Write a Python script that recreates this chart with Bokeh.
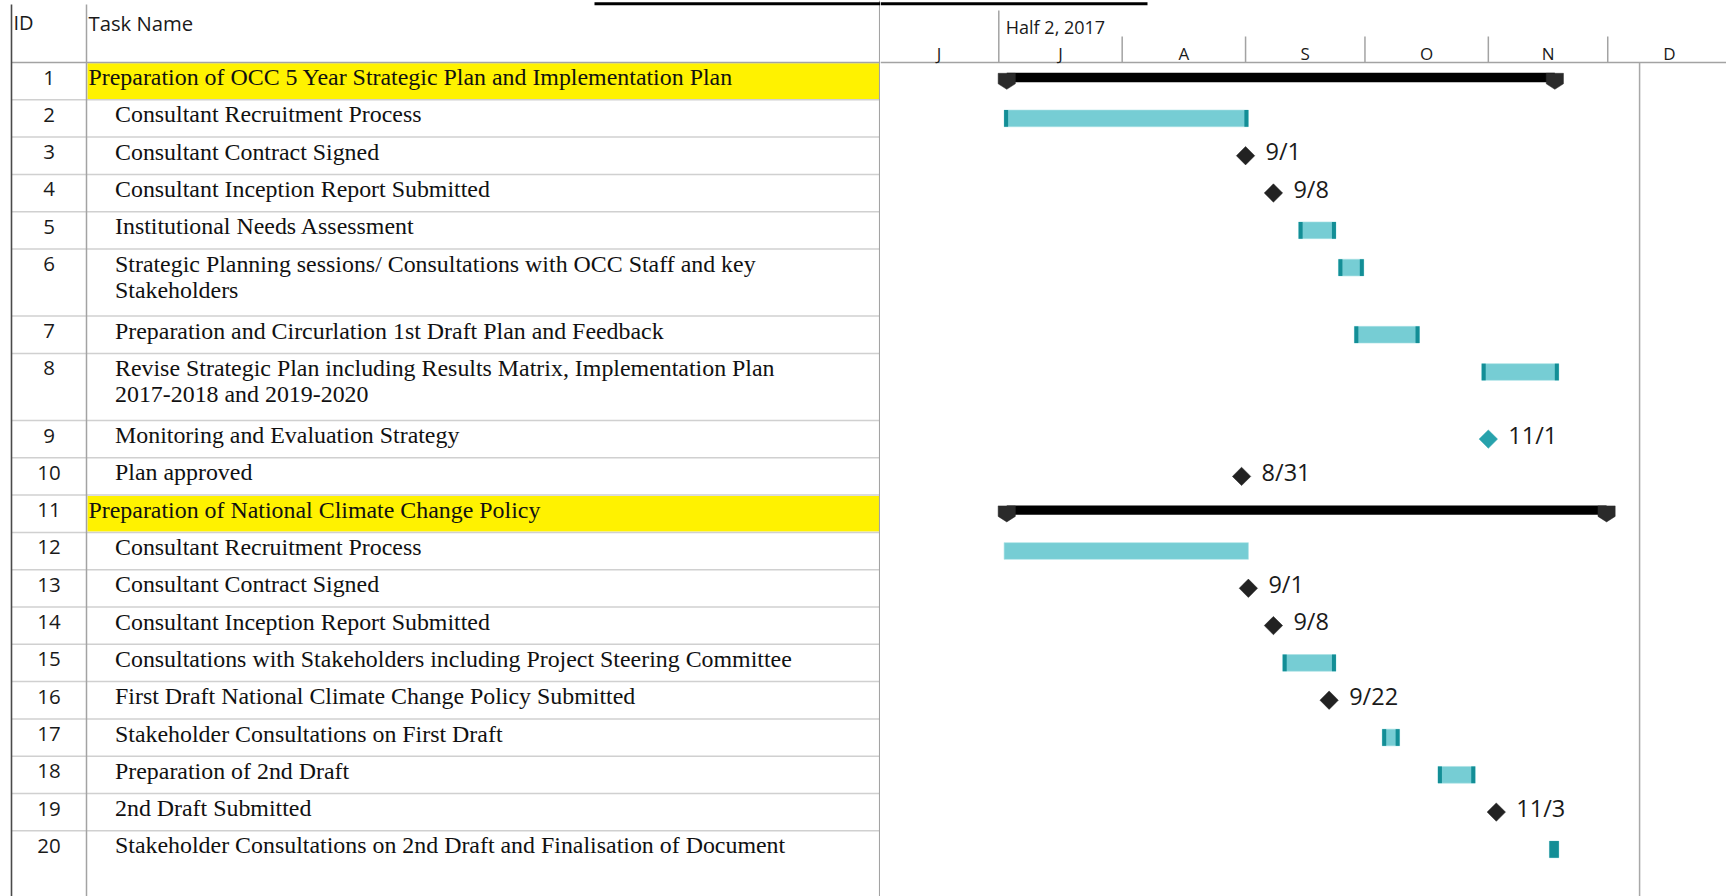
import pandas as pd
from bokeh.plotting import figure
from bokeh.layouts import row
from bokeh.models import ColumnDataSource, Range1d
from bokeh.core.properties import value
from bokeh.embed import file_html
from bokeh.resources import INLINE

# ---------------- data ----------------
TASK_IDS = [str(i) for i in range(1, 21)]
TASK_NAMES = [
    "Preparation of OCC 5 Year Strategic Plan and Implementation Plan",
    "Consultant Recruitment Process",
    "Consultant Contract Signed",
    "Consultant Inception Report Submitted",
    "Institutional Needs Assessment",
    "Strategic Planning sessions/ Consultations with OCC Staff and key\nStakeholders",
    "Preparation and Circurlation 1st Draft Plan and Feedback",
    "Revise Strategic Plan including Results Matrix, Implementation Plan\n2017-2018 and 2019-2020",
    "Monitoring and Evaluation Strategy",
    "Plan approved",
    "Preparation of National Climate Change Policy",
    "Consultant Recruitment Process",
    "Consultant Contract Signed",
    "Consultant Inception Report Submitted",
    "Consultations with Stakeholders including Project Steering Committee",
    "First Draft National Climate Change Policy Submitted",
    "Stakeholder Consultations on First Draft",
    "Preparation of 2nd Draft",
    "2nd Draft Submitted",
    "Stakeholder Consultations on 2nd Draft and Finalisation of Document",
]
TASK_KIND = ["summary", "task", "milestone", "milestone", "task", "task", "task", "task", "milestone", "milestone",
             "summary", "plain", "milestone", "milestone", "task", "milestone", "task", "task", "milestone", "task"]
TASK_START = ["2017-07-03", "2017-07-02", "2017-09-01", "2017-09-08", "2017-09-14", "2017-09-24", "2017-09-28",
              "2017-10-30", "2017-11-01", "2017-08-31", "2017-07-03", "2017-07-02", "2017-09-01 17:00",
              "2017-09-08", "2017-09-10", "2017-09-22", "2017-10-05", "2017-10-19", "2017-11-03", "2017-11-16"]
TASK_FINISH = ["2017-11-17", "2017-09-01", "2017-09-01", "2017-09-08", "2017-09-23", "2017-09-30", "2017-10-14",
               "2017-11-18", "2017-11-01", "2017-08-31", "2017-11-30", "2017-09-01", "2017-09-01 17:00",
               "2017-09-08", "2017-09-23", "2017-09-22", "2017-10-09", "2017-10-28", "2017-11-03", "2017-11-18"]
MILESTONE_HIGHLIGHT = [False] * 8 + [True] + [False] * 11
ROW_LINES = [1, 1, 1, 1, 1, 2, 1, 2, 1, 1, 1, 1, 1, 1, 1, 1, 1, 1, 1, 2]
MONTH_LETTERS = ["J", "J", "A", "S", "O", "N", "D"]
MONTH_STARTS = ["2017-06-01", "2017-07-01", "2017-08-01", "2017-09-01", "2017-10-01", "2017-11-01", "2017-12-01"]
MONTH_ENDS = ["2017-07-01", "2017-08-01", "2017-09-01", "2017-10-01", "2017-11-01", "2017-12-01", "2018-01-01"]
TIER_LABEL = "Half 2, 2017"
TIER_START = "2017-07-01"
MARK_DATE = "2017-12-09"
HEADER_ID = "ID"
HEADER_NAME = "Task Name"

# ---------------- layout constants ----------------
W_LEFT, W_RIGHT, H = 880, 846, 896
TABLE_R = 880
BORDER_L, ID_R = 11, 86
HEAD_B = 62
ROW_H, EXTRA_LINE_H, TEXT_LINE = 37.3, 29.8, 26.4
PX_PER_DAY = 3.98
JUL1_X = 998.3
MS_DAY = 86400000.0
MS_PX = MS_DAY / PX_PER_DAY
H8, H17 = 8 * 3600000.0, 17 * 3600000.0

SANS = value("Open Sans")
SERIF = value("Liberation Serif")
TEAL_LIGHT = "#76CDD4"
TEAL_DARK = "#138E96"
GRID_LIGHT = "#D0D0D0"
GRID_MID = "#A3A3A3"


def ms(s):
    return pd.Timestamp(s).value / 1e6


T0 = ms(TIER_START) - (JUL1_X - TABLE_R) * MS_PX
T1 = T0 + W_RIGHT * MS_PX

tops = []
yy = HEAD_B
for n in ROW_LINES:
    tops.append(yy)
    yy += ROW_H + (n - 1) * EXTRA_LINE_H
bottoms = [t + ROW_H + (n - 1) * EXTRA_LINE_H for t, n in zip(tops, ROW_LINES)]

y_range = Range1d(H, 0)


def make_fig(xr, w):
    p = figure(width=w, height=H, x_range=xr, y_range=y_range, output_backend="svg",
               toolbar_location=None, min_border=0, x_axis_location=None, y_axis_location=None,
               outline_line_color=None, background_fill_color="white", border_fill_color="white")
    p.grid.visible = False
    return p


# ================= left: table =================
pl = make_fig(Range1d(0, W_LEFT), W_LEFT)

s_idx = [i for i, k in enumerate(TASK_KIND) if k == "summary"]
pl.quad(left=[ID_R + 1] * len(s_idx), right=[TABLE_R - 1] * len(s_idx),
        top=[tops[i] + 0.8 for i in s_idx], bottom=[bottoms[i] - 0.8 for i in s_idx],
        fill_color="#FFF200", line_color=None)

pl.segment(x0=[BORDER_L] * len(bottoms), x1=[TABLE_R] * len(bottoms), y0=bottoms, y1=bottoms,
           line_color=GRID_LIGHT, line_width=1.5)
pl.segment(x0=[BORDER_L], x1=[TABLE_R], y0=[HEAD_B], y1=[HEAD_B], line_color=GRID_MID, line_width=1.5)
pl.segment(x0=[BORDER_L], x1=[BORDER_L], y0=[4], y1=[H], line_color="#4A4A4A", line_width=1.6)
pl.segment(x0=[ID_R, TABLE_R - 0.8], x1=[ID_R, TABLE_R - 0.8], y0=[4, 0], y1=[H, H],
           line_color=GRID_MID, line_width=1.5)
# cropped title underline fragment
pl.segment(x0=[594], x1=[TABLE_R], y0=[3.3], y1=[3.3], line_color="black", line_width=3)

pl.text(x=[13], y=[22], text=[HEADER_ID], text_font=SANS, text_font_size="20px",
        text_baseline="middle", text_align="left", text_color="#1a1a1a")
pl.text(x=[88], y=[22], text=[HEADER_NAME], text_font=SANS, text_font_size="20.3px",
        text_baseline="middle", text_align="left", text_color="#1a1a1a")

pl.text(x=[(BORDER_L + ID_R) / 2] * len(TASK_IDS), y=[t + 15 for t in tops], text=TASK_IDS,
        text_font=SANS, text_font_size="20.5px", text_align="center", text_baseline="middle",
        text_color="#1a1a1a")

nx, ny, nt = [], [], []
for i, name in enumerate(TASK_NAMES):
    x = 88 if TASK_KIND[i] == "summary" else 114.5
    for j, line in enumerate(name.split("\n")):
        nx.append(x)
        ny.append(tops[i] + 14.6 + j * TEXT_LINE)
        nt.append(line)
pl.text(x=nx, y=ny, text=nt, text_font=SERIF, text_font_size="23.9px", text_align="left",
        text_baseline="middle", text_color="#111111")

# ================= right: timeline =================
pr = make_fig(Range1d(T0, T1), W_RIGHT)

m_starts = [ms(s) for s in MONTH_STARTS]
m_ends = [ms(s) for s in MONTH_ENDS]
bx = m_starts[1:]
by0 = [10 if s == TIER_START else 36 for s in MONTH_STARTS[1:]]
pr.segment(x0=bx, x1=bx, y0=by0, y1=[HEAD_B] * len(bx), line_color=GRID_MID, line_width=1.5)
pr.segment(x0=[T0], x1=[T1], y0=[HEAD_B], y1=[HEAD_B], line_color=GRID_MID, line_width=1.5)
pr.text(x=[ms(TIER_START)], y=[26.4], text=[TIER_LABEL], x_offset=7, text_font=SANS, text_font_size="18px",
        text_baseline="middle", text_align="left", text_color="#1a1a1a")
pr.text(x=[(a + b) / 2 for a, b in zip(m_starts, m_ends)], y=[52.8] * len(MONTH_LETTERS), text=MONTH_LETTERS,
        text_font=SANS, text_font_size="17px", text_align="center", text_baseline="middle",
        text_color="#1a1a1a")
pr.segment(x0=[ms(MARK_DATE)], x1=[ms(MARK_DATE)], y0=[HEAD_B], y1=[H], line_color="#A8A8A8",
           line_width=1.5)
pr.segment(x0=[T0], x1=[ms(TIER_START) + (1147 - JUL1_X) * MS_PX], y0=[3.3], y1=[3.3],
           line_color="black", line_width=3)

# summary bars
sb = dict(l=[], r=[], t=[], b=[])
cap_xs, cap_ys = [], []
hw = 8.6 * MS_PX
for i in s_idx:
    a = ms(TASK_START[i])
    b = ms(TASK_FINISH[i]) + H17
    c = tops[i] + 15
    sb["l"].append(a); sb["r"].append(b); sb["t"].append(c - 4.7); sb["b"].append(c + 4.7)
    for cx in (a, b):
        cap_xs.append([cx - hw, cx + hw, cx + hw, cx, cx - hw])
        cap_ys.append([tops[i] + 10.8, tops[i] + 10.8, tops[i] + 21.3, tops[i] + 26.8, tops[i] + 21.3])
pr.quad(left=sb["l"], right=sb["r"], top=sb["t"], bottom=sb["b"], fill_color="black", line_color=None)
pr.patches(xs=cap_xs, ys=cap_ys, fill_color="#2A2A2A", line_color="#2A2A2A", line_width=0.5)

# task bars
tb = dict(l=[], r=[], t=[], b=[])
mk = dict(l=[], r=[], t=[], b=[])
mw = 4 * MS_PX
for i, k in enumerate(TASK_KIND):
    if k not in ("task", "plain"):
        continue
    a = ms(TASK_START[i]) + H8
    b = ms(TASK_FINISH[i]) + H17
    c = tops[i] + 18.6
    tb["l"].append(a); tb["r"].append(b); tb["t"].append(c - 8.35); tb["b"].append(c + 8.35)
    if k == "task":
        if b - a < 2.6 * mw:
            ends = ((a, b),)
        else:
            ends = ((a, a + mw), (b - mw, b))
        for lo, hi in ends:
            mk["l"].append(lo); mk["r"].append(hi); mk["t"].append(c - 8.35); mk["b"].append(c + 8.35)
pr.quad(left=tb["l"], right=tb["r"], top=tb["t"], bottom=tb["b"], fill_color=TEAL_LIGHT,
        line_color="#A8E0E4", line_width=0.6)
pr.quad(left=mk["l"], right=mk["r"], top=mk["t"], bottom=mk["b"], fill_color=TEAL_DARK, line_color=None)

# milestones
mi = [i for i, k in enumerate(TASK_KIND) if k == "milestone"]
ms_src = ColumnDataSource(dict(
    x=[ms(TASK_START[i]) for i in mi],
    y=[tops[i] + 18.6 for i in mi],
    ly=[tops[i] + 14.2 for i in mi],
    color=["#27A2AC" if MILESTONE_HIGHLIGHT[i] else "#222222" for i in mi],
    label=["%d/%d" % (pd.Timestamp(TASK_START[i]).month, pd.Timestamp(TASK_START[i]).day) for i in mi],
))
pr.scatter(x="x", y="y", source=ms_src, marker="square", size=13, angle=0.7853981634,
           fill_color="color", line_color="color", line_width=0.5)
pr.text(x="x", y="ly", text="label", source=ms_src, x_offset=20, text_font=SANS, text_font_size="23.5px",
        text_baseline="middle", text_align="left", text_color="#1a1a1a")

layout = row(pl, pr, spacing=0)
open("out.html", "w").write(file_html(layout, INLINE))
